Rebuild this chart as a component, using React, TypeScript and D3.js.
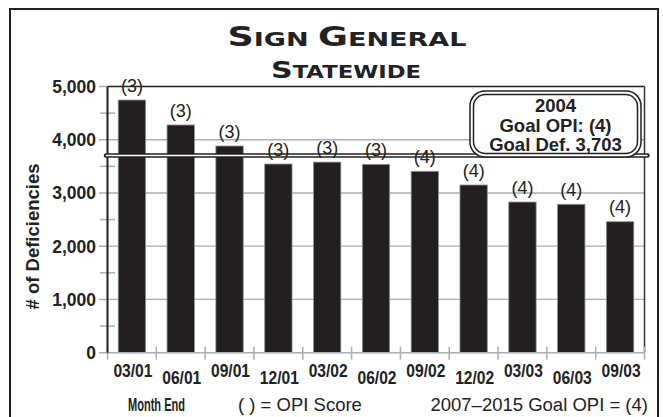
import React from 'react';
import * as d3 from 'd3';

// Quarter-end months and deficiency counts
const months = ['03/01', '06/01', '09/01', '12/01', '03/02', '06/02', '09/02', '12/02', '03/03', '06/03', '09/03'];
const deficiencies = [4746, 4277, 3882, 3544, 3580, 3538, 3407, 3150, 2830, 2787, 2460];
const opiScores = [3, 3, 3, 3, 3, 3, 4, 4, 4, 4, 4];
const yTicks = [0, 1000, 2000, 3000, 4000, 5000];
const yMinorTicks = [500, 1500, 2500, 3500, 4500];

// Goal reference
const goalYear = '2004';
const goalOpi = 4;
const goalDef = 3703;

const W = 663;
const H = 417;
const SANS = '"Liberation Sans", Arial, Helvetica, sans-serif';
const GRID = '#a9aeb3';
const BAR = '#231f20';

export default function App() {
  const x = d3.scaleBand<string>().domain(months).range([107.5, 644.5]).paddingInner(0.44).paddingOuter(0.22);
  const y = d3.scaleLinear().domain([0, 5000]).range([352.7, 86.5]);
  const step = x.step();
  const x0 = x.range()[0];
  const x1 = x.range()[1];
  const yGoal = y(goalDef);
  const fmt = d3.format(',');

  return (
    <svg width={W} height={H} style={{ position: 'absolute', left: 0, top: 0, background: '#fff' }}>
      {/* outer frame */}
      <rect x={10} y={9} width={648} height={420} fill="none" stroke="#222" strokeWidth={2} />

      {/* title */}
      <text x={347} y={46} textAnchor="middle" textLength={239} lengthAdjust="spacingAndGlyphs"
        fontFamily='"DejaVu Sans", sans-serif' fontWeight="bold" fill="#222">
        <tspan fontSize={27}>S</tspan><tspan fontSize={20}>IGN </tspan>
        <tspan fontSize={27}>G</tspan><tspan fontSize={20}>ENERAL</tspan>
      </text>
      <text x={346} y={78} textAnchor="middle" textLength={150} lengthAdjust="spacingAndGlyphs"
        fontFamily='"DejaVu Sans", sans-serif' fontWeight="bold" fill="#222">
        <tspan fontSize={22.5}>S</tspan><tspan fontSize={17}>TATEWIDE</tspan>
      </text>

      {/* gridlines */}
      {yTicks.filter(t => t > 0 && t < 5000).map(t => (
        <line key={'g' + t} x1={x0} x2={x1} y1={y(t)} y2={y(t)} stroke={GRID} strokeWidth={1.3} />
      ))}

      {/* bars */}
      {months.map((m, i) => (
        <rect key={m} x={x(m)} y={y(deficiencies[i])} width={x.bandwidth()} height={y(0) - y(deficiencies[i])}
          fill={BAR} stroke="#8d9196" strokeWidth={0.8} />
      ))}

      {/* plot frame top / right */}
      <line x1={x0} x2={x1} y1={y(5000)} y2={y(5000)} stroke="#222" strokeWidth={1.5} />
      <line x1={x1} x2={x1} y1={y(5000)} y2={y(0)} stroke="#333" strokeWidth={1.5} />

      {/* x axis */}
      <line x1={x0} x2={x1} y1={y(0)} y2={y(0)} stroke={GRID} strokeWidth={1.5} />
      {d3.range(months.length + 1).map(k => (
        <line key={'xt' + k} x1={x0 + k * step} x2={x0 + k * step} y1={y(0) - 6} y2={y(0) + 7}
          stroke={GRID} strokeWidth={1.5} />
      ))}
      {months.map((m, i) => (
        <text key={'xl' + m} x={(x(m) as number) + x.bandwidth() / 2 + 1} y={i % 2 === 0 ? 376.5 : 383.5}
          textAnchor="middle" textLength={39} lengthAdjust="spacingAndGlyphs"
          fontFamily={SANS} fontWeight="bold" fontSize={18.5} fill="#222">{m}</text>
      ))}

      {/* y axis */}
      {yTicks.map(t => (
        <g key={'yt' + t}>
          <line x1={99} x2={108} y1={y(t)} y2={y(t)} stroke={GRID} strokeWidth={1.5} />
          <text x={96} y={y(t)} dy={6.5} textAnchor="end" fontFamily={SANS} fontWeight="bold"
            fontSize={17.5} fill="#222">{fmt(t)}</text>
        </g>
      ))}
      {yMinorTicks.map(t => (
        <line key={'ym' + t} x1={100} x2={115} y1={y(t)} y2={y(t)} stroke={GRID} strokeWidth={1.5} />
      ))}
      <line x1={x0} x2={x0} y1={y(5000)} y2={y(0)} stroke="#222" strokeWidth={2} />
      <text transform={`translate(39,236.5) rotate(-90)`} textAnchor="middle" fontFamily={SANS}
        fontWeight="bold" fontSize={18.5} fill="#222"># of Deficiencies</text>

      {/* goal line */}
      <line x1={x0 - 1.5} x2={x1 + 3} y1={yGoal} y2={yGoal} stroke="#222" strokeWidth={4.5} strokeLinecap="round" />
      <line x1={x0 - 1} x2={x1 + 2.5} y1={yGoal} y2={yGoal} stroke="#fff" strokeWidth={1.6} strokeLinecap="round" />

      {/* OPI score labels */}
      {months.map((m, i) => (
        <text key={'lb' + m} x={(x(m) as number) + x.bandwidth() / 2} y={y(deficiencies[i]) - 8.4}
          textAnchor="middle" fontFamily={SANS} fontSize={18} fill="#222">({opiScores[i]})</text>
      ))}

      {/* goal box */}
      <rect x={470} y={91} width={171} height={66} rx={15} fill="#fff" stroke="#222" strokeWidth={1.5} />
      <rect x={473.5} y={94.5} width={164} height={59} rx={12} fill="#fff" stroke="#222" strokeWidth={1.5} />
      <text x={555.5} textAnchor="middle" fontFamily={SANS} fontWeight="bold" fontSize={18.5} fill="#222">
        <tspan x={555.5} y={112}>{goalYear}</tspan>
        <tspan x={555.5} y={131.5}>Goal OPI: ({goalOpi})</tspan>
        <tspan x={555.5} y={150.5}>Goal Def. {fmt(goalDef)}</tspan>
      </text>

      {/* footer */}
      <text x={128} y={411} textLength={57} lengthAdjust="spacingAndGlyphs" fontFamily={SANS}
        fontWeight="bold" fontSize={18} fill="#222">Month End</text>
      <text x={238} y={411} fontFamily={SANS} fontSize={18.5} fill="#222">( ) = OPI Score</text>
      <text x={648} y={411} textAnchor="end" fontFamily={SANS} fontSize={18.5} fill="#222">2007–2015 Goal OPI = ({goalOpi})</text>
    </svg>
  );
}
